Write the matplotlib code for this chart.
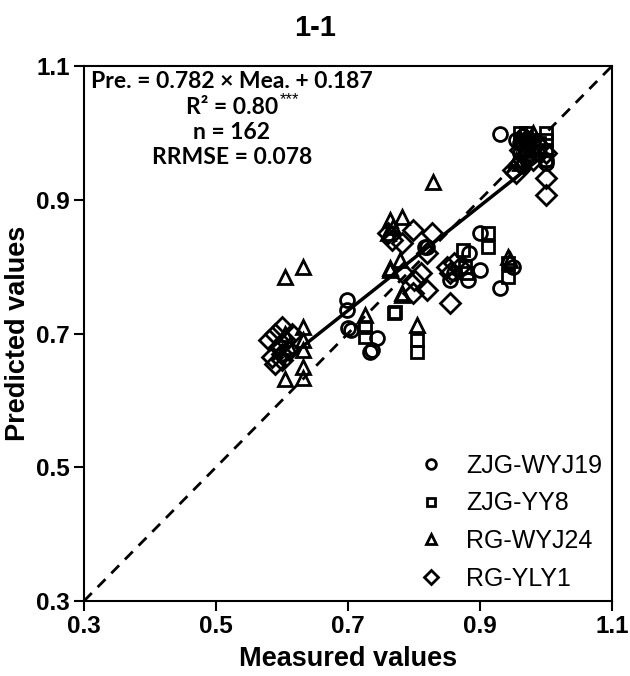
#!/usr/bin/env python3

import numpy as np
import matplotlib
matplotlib.use('Agg')
import matplotlib.pyplot as plt

# measured / predicted values, one pair of lists per cultivar
wyj19_mea = [0.93, 0.955, 0.96, 0.965, 0.97, 0.975, 0.98, 0.99, 1.0, 1.0, 0.96, 0.965,
             0.698, 0.698, 0.70, 0.705, 0.744, 0.736, 0.733, 0.817, 0.82,
             0.90, 0.883, 0.90, 0.882, 0.93, 0.95, 0.86, 0.855]
wyj19_pre = [0.999, 0.99, 0.985, 0.995, 0.98, 0.99, 0.975, 0.97, 0.96, 0.955, 0.97, 0.95,
             0.75, 0.735, 0.708, 0.705, 0.693, 0.675, 0.672, 0.829, 0.83,
             0.85, 0.82, 0.795, 0.78, 0.768, 0.80, 0.79, 0.78]

yy8_mea = [0.726, 0.726, 0.771, 0.77, 0.805, 0.805, 0.874, 0.877, 0.912, 0.912, 0.942, 0.942, 0.88,
           0.96, 0.97, 0.98, 1.0, 1.0, 0.99, 1.0, 0.97, 0.96, 1.0]
yy8_pre = [0.71, 0.695, 0.732, 0.73, 0.69, 0.672, 0.825, 0.80, 0.85, 0.83, 0.805, 0.785, 0.79,
           0.99, 1.0, 0.99, 1.0, 0.99, 0.985, 0.975, 0.975, 1.0, 0.96]

wyj24_mea = [0.605, 0.632, 0.632, 0.632, 0.632, 0.632, 0.605, 0.632, 0.605, 0.61,
             0.726, 0.805, 0.782, 0.764, 0.829, 0.764, 0.782, 0.768, 0.779, 0.764, 0.782,
             0.942, 0.945, 0.76,
             0.96, 0.965, 0.955, 0.97, 0.98, 0.96, 0.975]
wyj24_pre = [0.784, 0.80, 0.71, 0.69, 0.675, 0.65, 0.632, 0.633, 0.70, 0.68,
             0.728, 0.713, 0.76, 0.795, 0.927, 0.87, 0.874, 0.86, 0.81, 0.798, 0.757,
             0.815, 0.81, 0.85,
             0.99, 0.975, 0.96, 0.985, 1.0, 0.955, 0.97]

yly1_mea = [0.59, 0.58, 0.60, 0.595, 0.61, 0.585, 0.60, 0.605, 0.59, 0.615, 0.60,
            0.798, 0.827, 0.767, 0.782, 0.80, 0.82, 0.855, 0.783, 0.798, 0.81, 0.85, 0.86,
            0.855, 0.87, 0.82, 0.76,
            0.95, 0.96, 0.96, 0.97, 0.98, 1.0, 1.0, 1.0, 0.99, 0.97, 0.955]
yly1_pre = [0.70, 0.69, 0.71, 0.68, 0.675, 0.665, 0.66, 0.69, 0.655, 0.70, 0.67,
            0.855, 0.85, 0.84, 0.835, 0.78, 0.765, 0.746, 0.79, 0.76, 0.79, 0.80, 0.805,
            0.79, 0.80, 0.82, 0.85,
            0.945, 0.955, 0.975, 0.965, 0.96, 0.97, 0.932, 0.907, 0.98, 0.99, 0.94]

slope, intercept = 0.782, 0.187
fit_range = [0.6, 1.0]
ticks = [0.3, 0.5, 0.7, 0.9, 1.1]

groups = [
    ('ZJG-WYJ19', wyj19_mea, wyj19_pre, 'o', 10),
    ('ZJG-YY8', yy8_mea, yy8_pre, 's', 9),
    ('RG-WYJ24', wyj24_mea, wyj24_pre, '^', 10),
    ('RG-YLY1', yly1_mea, yly1_pre, 'D', 10.5),
]

bold_font = ['Liberation Sans', 'DejaVu Sans']
calib = ['Lato', 'DejaVu Sans']

fig = plt.figure(figsize=(6.3, 6.76), dpi=100)
ax = fig.add_axes([0.1333, 0.111, 0.8381, 0.7913])

ax.plot([0.3, 1.1], [0.3, 1.1], color='black', lw=2, ls=(0, (4, 3)), zorder=1)

for name, xs, ys, mk, ms in groups:
    ax.plot(xs, ys, ls='none', marker=mk, ms=ms, mfc='none', mec='black', mew=2,
            label=name, zorder=2)

fx = np.array(fit_range)
ax.plot(fx, slope * fx + intercept, color='black', lw=2.5, zorder=3)

ax.set_xlim(0.3, 1.1)
ax.set_ylim(0.3, 1.1)
ax.set_xticks(ticks)
ax.set_yticks(ticks)
ax.set_xticklabels([f'{t:.1f}' for t in ticks], family=bold_font, weight='bold', fontsize=17.5)
ax.set_yticklabels([f'{t:.1f}' for t in ticks], family=bold_font, weight='bold', fontsize=17.5)
ax.tick_params(direction='out', length=7, width=1.5, pad=3)
for sp in ax.spines.values():
    sp.set_linewidth(1.5)

ax.set_xlabel('Measured values', family=bold_font, weight='bold', fontsize=19.5, labelpad=6)
ax.set_ylabel('Predicted values', family=bold_font, weight='bold', fontsize=19.5, labelpad=4)
fig.suptitle('1-1', family=bold_font, weight='bold', fontsize=21, y=0.98)

# equation block, one line per text so the asterisks can sit small and high
cx = 0.28
lines = ['Pre. = 0.782 × Mea. + 0.187', 'R² = 0.80', 'n = 162', 'RRMSE = 0.078']
for i, s in enumerate(lines):
    t = ax.text(cx, 0.99 - i * 0.047, s, transform=ax.transAxes, ha='center', va='top',
                family=calib, weight='bold', fontsize=16.5)
    if i == 1:
        ax.annotate('***', xy=(1, 1), xycoords=t, xytext=(1, 3), textcoords='offset points',
                    ha='left', va='top', family=bold_font, fontsize=12)

leg = ax.legend(loc='lower right', frameon=False, markerscale=0.7,
                prop={'family': ['Liberation Sans', 'DejaVu Sans'], 'size': 18},
                handlelength=1.0, handletextpad=0.9, labelspacing=0.55,
                borderaxespad=0.0)

fig.savefig('out.png', dpi=100)
